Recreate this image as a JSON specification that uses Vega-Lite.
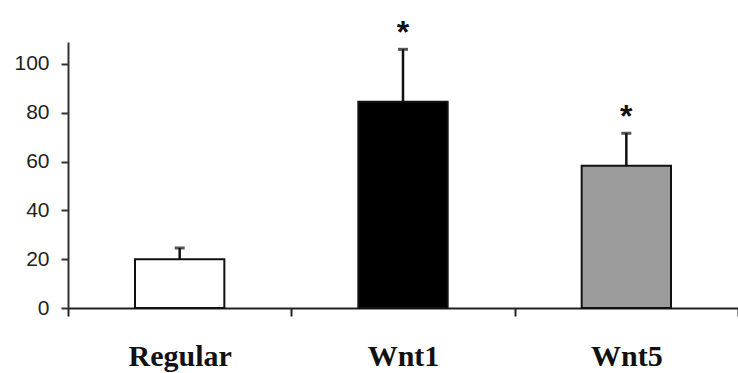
{
  "$schema": "https://vega.github.io/schema/vega-lite/v6.json",
  "autosize": "none",
  "padding": {"left": 68, "top": 42, "right": 0, "bottom": 65},
  "width": 670,
  "height": 266,
  "background": "white",
  "config": {"view": {"stroke": null}},
  "data": {
    "values": [
      {"group": "Regular", "value": 20.0, "errTop": 24.6, "sig": ""},
      {"group": "Wnt1", "value": 84.5, "errTop": 106, "sig": "*"},
      {"group": "Wnt5", "value": 58.3, "errTop": 71.6, "sig": "*"}
    ]
  },
  "encoding": {
    "x": {
      "field": "group",
      "type": "nominal",
      "sort": null,
      "scale": {"paddingInner": 0, "paddingOuter": 0},
      "axis": {
        "title": null,
        "labelAngle": 0,
        "tickBand": "extent",
        "tickSize": 8,
        "tickWidth": 2,
        "tickColor": "#222",
        "domainColor": "#222",
        "domainWidth": 2,
        "labelFont": "Liberation Serif",
        "labelFontWeight": "bold",
        "labelFontSize": 30,
        "labelColor": "#111",
        "labelPadding": 25,
        "grid": false
      }
    }
  },
  "layer": [
    {
      "mark": {"type": "bar", "width": {"band": 0.4}, "stroke": "#111", "strokeWidth": 2},
      "encoding": {
        "y": {
          "field": "value",
          "type": "quantitative",
          "scale": {"domain": [0, 109], "nice": false},
          "axis": {
            "title": null,
            "values": [0, 20, 40, 60, 80, 100],
            "tickSize": 7,
            "tickWidth": 2,
            "tickColor": "#333",
            "domainColor": "#333",
            "domainWidth": 2,
            "labelFont": "Liberation Sans",
            "labelFontSize": 21,
            "labelColor": "#222",
            "labelPadding": 12,
            "grid": false
          }
        },
        "fill": {
          "field": "group",
          "type": "nominal",
          "scale": {"domain": ["Regular", "Wnt1", "Wnt5"], "range": ["#ffffff", "#000000", "#9b9b9b"]},
          "legend": null
        }
      }
    },
    {
      "mark": {"type": "rule", "strokeWidth": 2.5, "color": "#111"},
      "encoding": {
        "y": {"field": "value", "type": "quantitative"},
        "y2": {"field": "errTop"}
      }
    },
    {
      "mark": {"type": "tick", "orient": "horizontal", "size": 10, "thickness": 3, "color": "#111"},
      "encoding": {
        "y": {"field": "errTop", "type": "quantitative"}
      }
    },
    {
      "mark": {"type": "text", "dy": -16, "font": "Liberation Sans", "fontSize": 32, "fontWeight": "bold", "baseline": "middle", "color": "#111"},
      "encoding": {
        "y": {"field": "errTop", "type": "quantitative"},
        "text": {"field": "sig"}
      }
    }
  ]
}
